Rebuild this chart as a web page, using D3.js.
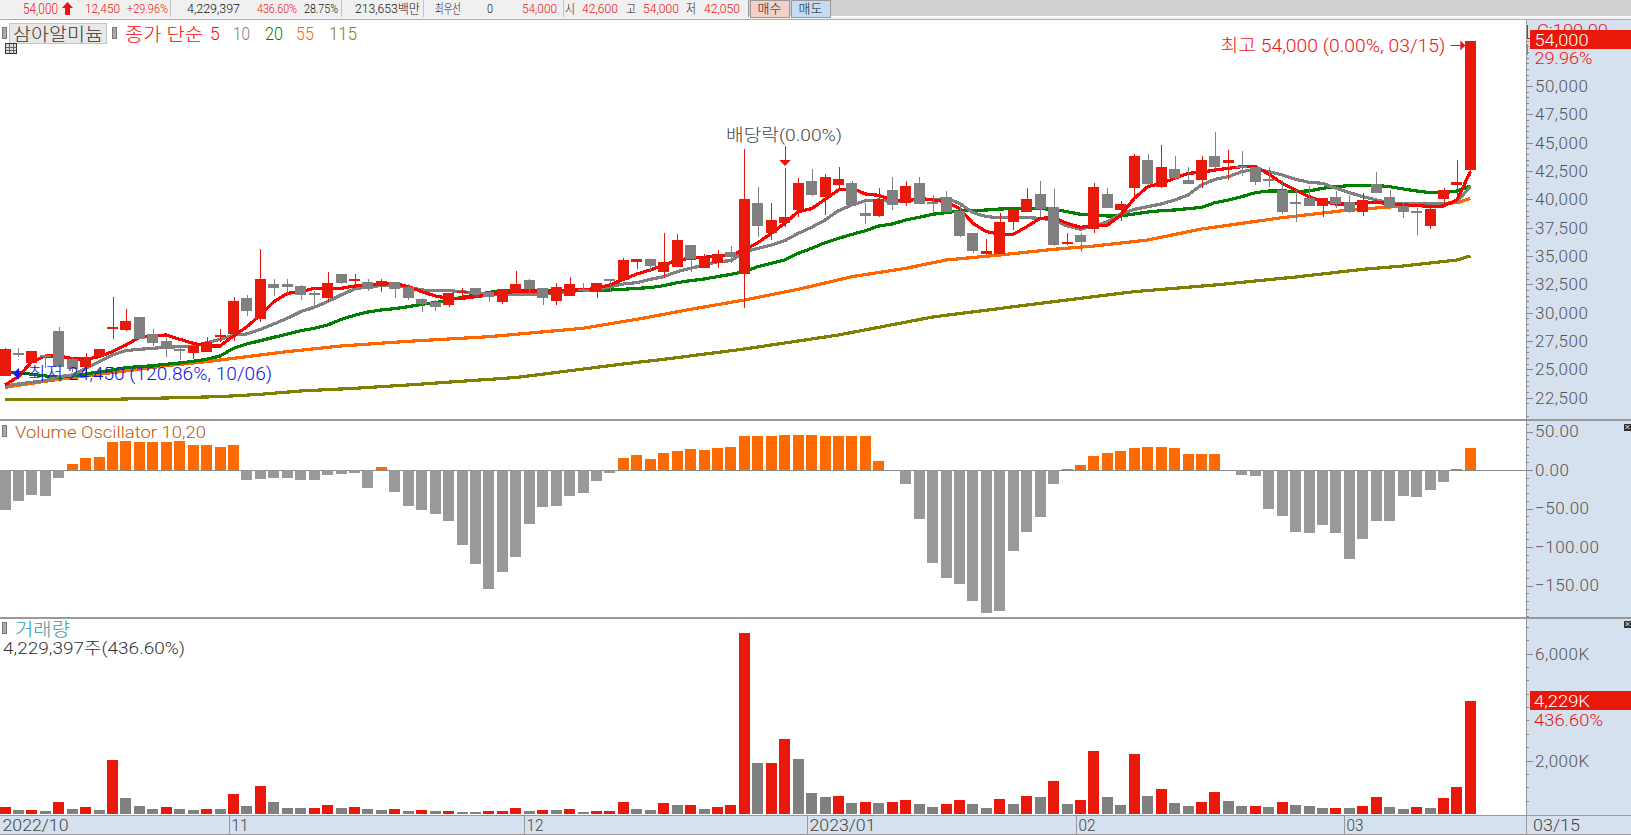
<!DOCTYPE html>
<html>
<head>
<meta charset="utf-8">
<script src="https://cdn.jsdelivr.net/npm/d3@7/dist/d3.min.js"></script>
<style>
html,body{margin:0;padding:0;background:#fff;overflow:hidden}
svg{display:block}
text{font-family:Roboto,"Noto Sans CJK KR",sans-serif;font-weight:300;white-space:pre}
</style>
</head>
<body>
<svg id="chart" width="1631" height="835"></svg>
<script>
// Daily candles, one entry per session, 2022/10 through 2023/03/15
const opens = [24450,26450,25600,26250,28390,25890,25240,26180,28530,28480,29620,28090,27510,26790,26450,26565,27920,28150,31270,29445,32530,32530,32350,31730,31330,33415,32870,32680,32385,32710,32297,31210,30916,30680,31840,32180,31827,30945,31800,32885,32180,31033,31475,32080,31855,32930,32855,34470,34735,33590,34030,35970,33945,34355,35355,33445,39675,37060,37910,39057,41615,40200,41260,41437,38790,38530,40820,39675,41437,39720,40200,38970,37030,35180,35180,38000,38880,40470,39320,36060,36850,37380,40470,39057,40995,43465,41085,42670,41700,41700,43820,43200,42980,42850,41800,40821,39780,40145,39410,40204,39763,38880,41350,40204,39410,38930,37647,40028,41262,42600];
const highs = [26850,26850,26625,26330,28740,25980,26420,26800,31350,30330,29620,28560,27740,26920,27065,27830,28560,31350,31560,35620,32940,32940,32440,31940,33590,33415,33415,32940,32940,32710,32500,31327,31120,31738,32150,32180,31827,32090,33680,32970,32180,32590,33150,32590,32620,33000,34825,34735,34735,37030,36940,35970,35150,35530,35880,44435,41085,39675,42790,41880,42670,42230,42850,41615,39675,40995,41965,41615,41965,40380,40730,39400,37030,36500,38790,39320,40995,41615,40910,37030,37030,41437,40995,39850,43995,43995,44788,43818,42850,43818,45935,44348,44260,42850,42850,41700,40821,41174,40086,40733,40380,40557,42408,40821,39763,39234,39234,40997,43466,54000];
const lows = [24450,26050,25600,25100,25240,24800,24800,26000,27700,28390,27680,27065,26125,25830,25920,26565,27450,27540,29710,29210,31470,31470,31120,30680,30915,32500,32385,31945,31855,31330,31130,30093,30180,30534,31120,31415,30975,30740,31800,31710,30680,30680,31475,31800,31327,31800,32855,33885,33700,33120,34030,33620,33945,33945,34410,30385,36705,36410,37590,38440,40290,38615,40995,39410,37820,38440,39057,39410,39585,38790,38880,36680,35265,35090,35180,37290,38880,38440,35880,35970,35350,37030,39235,38085,40115,41260,40995,41700,41350,40995,42670,41700,42055,41262,41115,38705,37999,39410,38440,39234,38793,38528,40557,39234,38352,36853,37383,39410,39940,42050];
const closes = [26800,26350,26625,26150,25240,25010,26100,26800,28740,29270,27680,27360,26770,26690,27065,27420,28020,31030,30150,32970,32210,32270,31590,31630,32620,32620,32960,32120,32795,32120,31327,30770,30534,31738,31930,31650,31385,32090,32530,32060,31327,32270,32530,31980,32620,32840,34650,34735,34120,34440,36410,34735,34795,35180,34910,40025,37645,38175,38440,41437,40380,41965,41790,39500,38530,40025,39500,41170,39585,39630,38880,36765,35440,35440,38000,39145,40025,39145,35970,36235,36235,41085,39235,39585,43818,41350,42850,41878,41350,43466,42850,43466,42880,41527,41700,38880,39680,39410,40086,39587,38880,39940,40557,39234,38880,38830,39145,40821,41527,54000];

// Closing-price moving averages, read per session
const ma5 = [23627,24362,25685,26184,26184,25948,25890,26125,26566,27153,27830,27977,28035,27653,27300,27065,27065,27947,28770,29799,30974,31709,31856,32150,32150,32150,32356,32415,32591,32591,32297,31856,31474,31268,31268,31415,31563,31768,31856,31915,31768,31856,32003,32003,32150,32444,32944,33414,33766,34207,34648,34795,34883,35001,35089,35530,36177,37000,37881,38910,39174,39997,40820,40967,40467,40350,39938,39792,40085,39938,39792,39204,37881,37146,36911,36911,37587,38322,38381,37881,37528,37705,37705,38616,40085,41114,41408,41849,42290,42379,42585,42731,42878,42878,42232,41409,40821,40234,39793,39587,39587,39646,39763,39587,39499,39469,39352,39410,39940,42437];
const ma10 = [23539,23715,23862,24009,24362,24509,25096,25684,26272,26654,26772,26860,26948,27007,27065,27360,27653,28035,28124,28535,29005,29505,30093,30475,30975,31562,32091,32297,32385,32444,32250,32003,31944,31944,31856,31709,31650,31650,31650,31650,31650,31709,31856,32003,32003,32297,32532,32650,32944,33179,33619,33914,34207,34501,34590,35383,35677,35971,36353,37000,37528,38175,38998,39498,39880,39938,39792,39880,40085,39938,40085,39644,38822,38469,38381,38410,38381,38322,38175,37646,37352,37646,38028,38704,39115,39351,39586,39938,40379,41262,41761,41997,42437,42643,42437,42143,41761,41497,41409,40968,40586,40234,39940,39704,39587,39587,39587,39587,39793,41115];
const ma20 = [24802,24714,24568,24420,24303,24420,24597,24773,24950,25155,25243,25332,25449,25567,25714,25890,26184,26860,27242,27536,27830,28124,28417,28623,28917,29417,29769,30063,30240,30357,30534,30739,30886,31121,31357,31562,31797,31944,31974,31944,31944,31944,31974,32003,32003,32003,32062,32150,32209,32385,32650,32826,32973,33179,33384,33619,34060,34354,34648,35236,35677,36177,36559,36911,37234,37646,37822,38175,38410,38675,38822,38969,38998,39057,39145,39174,39204,39174,39116,38910,38675,38616,38528,38528,38704,38880,38998,39057,39174,39292,39704,39940,40234,40586,40733,40733,40703,40733,40968,41115,41203,41203,41233,41115,40909,40733,40586,40586,40733,41174];
// The two slow averages are smooth enough to keep a reading every few sessions
const ma55Sessions = [0,4,8,12,15,18,21,25,30,36,43,47,51,55,59,63,67,70,74,78,81,85,89,95,100,104,108,109];
const ma55 = [23421,24127,24714,25332,25684,26125,26566,27065,27477,27884,28625,29417,30300,31120,32062,33179,33913,34648,35089,35589,35883,36412,37380,38382,39058,39410,39704,40086];
const ma115Sessions = [0,8,13,16,19,22,26,30,38,46,49,55,62,69,78,84,90,96,101,104,108,109];
const ma115 = [22363,22363,22510,22598,22804,23098,23332,23627,24286,25477,25890,26800,28034,29620,30975,31856,32444,33148,33826,34120,34649,35002];

const oscillator = [-52,-40,-32.5,-34,-10,7.8,15.6,17,36,37.7,36,36,36,37.7,32.5,32.5,30,32.5,-13,-11.7,-10.4,-10.4,-13,-13,-6.5,-5,-4,-23.4,3.9,-28.6,-46.8,-52,-57,-66,-97.4,-122,-154.6,-132.5,-113,-70,-48,-46.8,-33.8,-30,-14.3,-4,15.6,19.5,14.3,22,24.7,27.3,26,28.6,30,44,44,44,45.5,45.5,45.5,44,44,44,44,11.7,0,-18,-63.6,-120.8,-140,-148,-170,-185.8,-183,-105,-80.5,-61,-18,1.3,6.5,18,22,24.7,28.6,30,30,28.6,20.8,20.8,20.8,0,-6.5,-7.8,-50.7,-59.8,-80.5,-81.8,-71,-81.8,-115.6,-89.6,-66,-66,-33.8,-35,-26,-15.6,1.3,28.6];

// Volume in thousands of shares, and the sessions whose volume bar is red
const volume = [262,150,150,112,449,187,262,150,2020,599,299,187,262,187,150,187,187,748,299,1047,449,224,224,224,337,224,262,187,150,187,112,150,112,112,75,75,112,112,224,112,150,150,187,75,112,112,449,187,150,411,337,337,187,262,337,6771,1908,1908,2806,2058,786,636,673,399,436,399,436,524,362,249,362,524,374,224,561,374,673,636,1235,374,524,2357,636,337,2245,673,935,411,299,449,823,486,299,299,262,449,337,299,224,224,224,299,636,262,187,262,224,599,1010,4229];
const redVolumeSessions = [0,2,4,6,8,12,15,17,19,23,24,26,29,31,33,36,37,38,40,42,44,45,46,49,51,53,54,55,57,58,62,64,66,67,70,71,74,76,78,80,81,84,86,89,90,93,95,99,101,102,105,107,108,109];

const priceTicks = [22500,25000,27500,30000,32500,35000,37500,40000,42500,45000,47500,50000];
const oscTicks = [50,0,-50,-100,-150];
const volTicks = [2000,6000];
// First session of each month on the date strip
const monthStarts = [0,17,39,60,80,100];
const monthLabels = ["2022/10","11","12","2023/01","02","03"];

const RED = "#E8190A", GREY = "#808080", AXIS_BG = "#D6E1EF", AXIS_TEXT = "#555";
const LABEL_FONT = 17;
const W = 1631, H = 835, PLOT_R = 1526;

const svg = d3.select("#chart");
const sessions = d3.range(opens.length);

const x = d3.scaleLinear().domain([0, sessions.length - 1]).range([5, 1470.4]);
const yPrice = d3.scaleLinear().domain([35000, 50000]).range([256, 85.9]);
const yOsc = d3.scaleLinear().domain([0, -150]).range([470, 585.5]);
const yVol = d3.scaleLinear().domain([0, 6000]).range([814, 653.7]);
const BODY_W = 11;

function label(parent, px, py, str, opt = {}) {
  const t = parent.append("text").attr("x", px).attr("y", py)
    .attr("dominant-baseline", "central")
    .attr("font-size", opt.size || LABEL_FONT)
    .attr("fill", opt.fill || "#333")
    .attr("text-anchor", opt.anchor || "start")
    .text(str);
  if (opt.width) t.attr("textLength", opt.width).attr("lengthAdjust", "spacingAndGlyphs");
  return t;
}
function box(parent, px, py, w, h, fill, stroke) {
  const r = parent.append("rect").attr("x", px).attr("y", py).attr("width", w).attr("height", h)
    .attr("fill", fill).attr("shape-rendering", "crispEdges");
  if (stroke) r.attr("stroke", stroke);
  return r;
}

// Backgrounds for the axis column and the date strip
box(svg, PLOT_R, 20, W - PLOT_R, 795, AXIS_BG);
box(svg, 0, 815, W, 19, AXIS_BG);
box(svg, 0, 834, W, 1, "#999");

/* ---------- Toolbar row ---------- */
const bar = svg.append("g");
box(bar, 0, 0, W, 16, "#D0D0D0");
box(bar, 0, 0, 748, 17, "#F0F0F0");
box(bar, 0, 17, W, 3, "#F4F4F4");
box(bar, 0, 19, W, 1, "#AAA");
[170, 341, 423, 563].forEach(sx => box(bar, sx, 0, 1, 17, "#C4C4C4"));
box(bar, 748, 0, 1, 17, "#999");
box(bar, 750, 0, 39, 17, "#F4D0CA", "#999");
box(bar, 791, 0, 39, 17, "#C5DCF2", "#999");
label(bar, 23, 8.5, "54,000", {fill:"#EE1111", size:14, width:35});
bar.append("path").attr("d", "M62,8 L67.5,2 L73,8 L70,8 L70,15 L65,15 L65,8 Z").attr("fill", "#EE1111");
[[85,"12,450",35,"#EE1111"],[127,"+29.96%",41,"#EE1111"],[187,"4,229,397",53,"#111"],[257,"436.60%",40,"#EE1111"],[304,"28.75%",34,"#111"],[355,"213,653백만",65,"#111"],[435,"최우선",26,"#111"],[487,"0",6,"#111"],[522,"54,000",35,"#EE1111"],[565,"시",10,"#111"],[582,"42,600",36,"#EE1111"],[626,"고",10,"#111"],[643,"54,000",36,"#EE1111"],[686,"저",10,"#111"],[704,"42,050",36,"#EE1111"]]
  .forEach(d => label(bar, d[0], 8.5, d[1], {fill:d[3], size:13, width:d[2]}));
label(bar, 769.5, 8.5, "매수", {size:13, anchor:"middle", fill:"#111"});
label(bar, 810.5, 8.5, "매도", {size:13, anchor:"middle", fill:"#111"});

/* ---------- Price panel ---------- */
const pricePanel = svg.append("g");
const lineFor = (xs, ys) => d3.line().x((d, i) => x(xs[i])).y(d => yPrice(d))(ys);
[[ma115Sessions, ma115, "#808000"], [ma55Sessions, ma55, "#FF6600"], [sessions, ma20, "#008000"], [sessions, ma10, "#808080"], [sessions, ma5, "#FF0000"]]
  .forEach(([xs, ys, color]) => {
    pricePanel.append("path")
      .attr("d", lineFor(xs, ys)).attr("fill", "none").attr("stroke", color)
      .attr("stroke-width", 3.2).attr("stroke-linejoin", "round").attr("shape-rendering", "crispEdges");
  });

const candle = pricePanel.selectAll("g.candle").data(sessions).join("g").attr("class", "candle")
  .attr("shape-rendering", "crispEdges");
const colorOf = i => closes[i] >= opens[i] ? RED : GREY;
candle.append("rect")
  .attr("x", i => Math.round(x(i)))
  .attr("y", i => yPrice(highs[i]))
  .attr("width", 1)
  .attr("height", i => yPrice(lows[i]) - yPrice(highs[i]))
  .attr("fill", colorOf);
candle.append("rect")
  .attr("x", i => Math.round(x(i) - BODY_W / 2))
  .attr("y", i => yPrice(Math.max(opens[i], closes[i])))
  .attr("width", BODY_W)
  .attr("height", i => Math.max(2, Math.abs(yPrice(opens[i]) - yPrice(closes[i]))))
  .attr("fill", colorOf);

// Annotations for the period high, period low and the ex-dividend session
const hi = d3.maxIndex(highs), lo = d3.minIndex(lows);
const hiY = yPrice(highs[hi]) + 5, loY = yPrice(lows[lo]) - 2;
label(pricePanel, x(hi) - 250, hiY, "최고 54,000 (0.00%, 03/15)", {fill:"#EE1111", size:18, width:225});
pricePanel.append("path").attr("d", `M${x(hi)-20},${hiY}H${x(hi)-8}`).attr("stroke", "#EE1111").attr("stroke-width", 1);
pricePanel.append("path").attr("d", `M${x(hi)-5},${hiY}l-5,-5v10z`).attr("fill", "#EE1111");
label(pricePanel, x(lo) + 23, loY, "최저 24,450 (120.86%, 10/06)", {fill:"#1414E6", size:18, width:244});
pricePanel.append("path").attr("d", `M${x(lo)+8},${loY}l6,-6v12z`).attr("fill", "#1414E6");
pricePanel.append("path").attr("d", `M${x(lo)+12},${loY}H${x(lo)+24}`).attr("stroke", "#1414E6").attr("stroke-width", 1.5);

const exDiv = 58;
label(pricePanel, 726, 135, "배당락(0.00%)", {fill:"#444", size:17, width:116});
pricePanel.append("path").attr("d", `M${Math.round(x(exDiv))+.5},146V161`).attr("stroke", "#EE1111").attr("stroke-width", 1);
pricePanel.append("path").attr("d", `M${x(exDiv)-5.5},160h11.5l-5.7,6z`).attr("fill", "#EE1111");

// Stock selector and moving-average legend
const legend = svg.append("g");
box(legend, 2, 27, 4, 11, "#AAA", "#777");
box(legend, 9.5, 23.5, 97, 20, "#E8E8E8", "#C4C4C4");
label(legend, 58, 34, "삼아알미늄", {size:18, anchor:"middle", fill:"#333", width:90});
box(legend, 112, 27, 4, 11, "#AAA", "#777");
label(legend, 125, 34, "종가 단순", {fill:"#FF0000", size:18, width:78});
[[210,"5","#FF0000",null],[233,"10","#808080",17],[265,"20","#008000",18],[296,"55","#FF6600",18],[329,"115","#808000",28]]
  .forEach(d => label(legend, d[0], 34, d[1], {fill:d[2], size:17.5, width:d[3]}));
box(legend, 5.5, 43.5, 11, 10, "#DDD", "#333");
legend.append("path").attr("d", "M9,44V53M13,44V53M6,47H16M6,50H16").attr("stroke", "#666").attr("stroke-width", 1).attr("shape-rendering", "crispEdges");

/* ---------- Volume Oscillator panel ---------- */
const oscPanel = svg.append("g");
box(oscPanel, 0, yOsc(0) - .5, PLOT_R, 1, "#888");
oscPanel.selectAll("rect.bar").data(oscillator).join("rect").attr("class", "bar")
  .attr("x", (d, i) => Math.round(x(i) - BODY_W / 2))
  .attr("width", BODY_W)
  .attr("y", d => Math.min(yOsc(d), yOsc(0)))
  .attr("height", d => Math.abs(yOsc(d) - yOsc(0)))
  .attr("fill", d => d >= 0 ? "#FF6A00" : "#999999")
  .attr("shape-rendering", "crispEdges");
box(oscPanel, 2, 425, 4, 11, "#AAA", "#777");
label(oscPanel, 15, 432, "Volume Oscillator 10,20", {fill:"#B85A10", size:17, width:191});

/* ---------- Volume panel ---------- */
const volPanel = svg.append("g");
const redSet = new Set(redVolumeSessions);
volPanel.selectAll("rect.bar").data(volume).join("rect").attr("class", "bar")
  .attr("x", (d, i) => Math.round(x(i) - BODY_W / 2))
  .attr("width", BODY_W)
  .attr("y", d => yVol(d))
  .attr("height", d => yVol(0) - yVol(d))
  .attr("fill", (d, i) => redSet.has(i) ? RED : GREY)
  .attr("shape-rendering", "crispEdges");
box(volPanel, 2, 622, 4, 11, "#AAA", "#777");
label(volPanel, 15, 629, "거래량", {fill:"#2E9E9E", size:18, width:55});
label(volPanel, 3, 648, "4,229,397주(436.60%)", {fill:"#333", size:17, width:182});

// Panel separators
box(svg, 0, 419, W, 1.5, "#999");
box(svg, 0, 617, W, 1.5, "#999");
box(svg, 0, 814.5, W, 1, "#999");
box(svg, PLOT_R - .5, 20, 1, 815, "#999");

/* ---------- Right-hand axes ---------- */
function styleAxis(g) {
  g.select(".domain").remove();
  g.selectAll("line").attr("stroke", "#888").attr("shape-rendering", "crispEdges");
  g.selectAll("text").attr("fill", AXIS_TEXT).attr("font-size", LABEL_FONT)
    .attr("font-family", 'Roboto,"Noto Sans CJK KR",sans-serif')
    .attr("letter-spacing", 0.5);
}
function drawAxis(scale, ticks, fmt, minorValues) {
  const g = svg.append("g").attr("transform", `translate(${PLOT_R},0)`);
  g.append("g").call(d3.axisRight(scale).tickValues(minorValues).tickSize(3).tickFormat("")).call(styleAxis);
  g.append("g").call(d3.axisRight(scale).tickValues(ticks).tickSize(7).tickPadding(2).tickFormat(fmt)).call(styleAxis);
}
drawAxis(yPrice, priceTicks, d3.format(","), d3.range(22000, 54500, 500));
drawAxis(yOsc, oscTicks, d3.format(".2f"), d3.range(-190, 71, 10));
drawAxis(yVol, volTicks, d => d3.format(",")(d) + "K", d3.range(500, 7500, 500));

// Current-value badges on the axes
const axisTop = svg.append("g");
label(axisTop, 1537, 30, "C:100.00", {fill:"#EE1111", width:71});
box(axisTop, PLOT_R + .5, 25, 1, 13, "#EE1111");
box(axisTop, PLOT_R + .5, 44, 1, 11, "#888");
box(axisTop, PLOT_R + 1, 38, 8, 1, "#EE1111");
box(axisTop, 1530, yPrice(closes[hi]) - 10.5, W - 1530, 19, RED);
label(axisTop, 1534.5, yPrice(closes[hi]) - 1, "54,000", {fill:"#fff", size:LABEL_FONT, width:54});
label(axisTop, 1534.5, 58, "29.96%", {fill:"#EE1111", size:LABEL_FONT, width:58});

const curVol = volume[volume.length - 1];
box(axisTop, 1530, yVol(curVol) - 10, W - 1530, 19, RED);
label(axisTop, 1534, yVol(curVol) - .5, d3.format(",")(curVol) + "K", {fill:"#fff", size:LABEL_FONT, width:56});
label(axisTop, 1534, 720, "436.60%", {fill:"#EE1111", size:LABEL_FONT, width:69});

// Panel close buttons
[427, 624].forEach(cy => {
  box(axisTop, 1624, cy - 3.5, 7, 7, "#333");
  axisTop.append("path").attr("d", `M1625.5,${cy-2}l4,4m0,-4l-4,4`).attr("stroke", "#eee").attr("stroke-width", 1);
});

/* ---------- Date strip ---------- */
const dateStrip = svg.append("g");
monthStarts.forEach((s, i) => {
  const left = s === 0 ? 0 : Math.round(x(s) - 5);
  if (s !== 0) box(dateStrip, left, 815, 1, 19, "#999");
  label(dateStrip, left + 2.5, 824.5, monthLabels[i], {fill:"#444", size:17, width: monthLabels[i].length > 2 ? 66 : 17});
});
label(dateStrip, 1533, 824.5, "03/15", {fill:"#444", size:17, width:47});
</script>
</body>
</html>
